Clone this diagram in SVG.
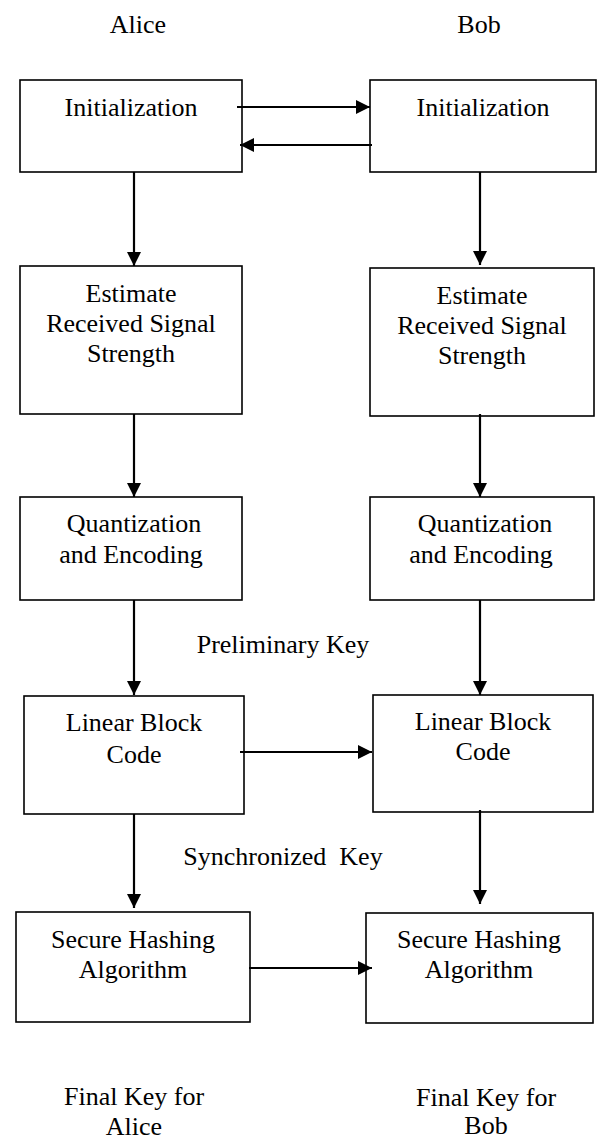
<svg xmlns="http://www.w3.org/2000/svg" width="597" height="1140" viewBox="0 0 597 1140">
<style>
.box{fill:#fff;stroke:#000;stroke-width:1.6}
.t{font-family:'Liberation Serif','Times New Roman',serif;font-size:26px;fill:#000;text-anchor:middle}
.c{fill:none;stroke:#000;stroke-width:2.2}
</style>
<defs>
<marker id="ah" markerUnits="userSpaceOnUse" markerWidth="14" markerHeight="14" refX="14" refY="7" orient="auto">
<path d="M0,0 L14,7 L0,14 Z" fill="#000"/>
</marker>
</defs>
<rect width="597" height="1140" fill="#fff"/>
<g id="labels">
<text class="t" x="138" y="33">Alice</text>
<text class="t" x="479" y="33">Bob</text>
<text class="t" x="283" y="653">Preliminary Key</text>
<text class="t" x="283" y="865" xml:space="preserve">Synchronized  Key</text>
<text class="t" x="134" y="1105">Final Key for</text>
<text class="t" x="134" y="1135">Alice</text>
<text class="t" x="486" y="1106">Final Key for</text>
<text class="t" x="486" y="1134">Bob</text>
</g>
<g id="alice-init"><rect class="box" x="20" y="80" width="222" height="92"/><text class="t" x="131" y="116">Initialization</text></g>
<g id="bob-init"><rect class="box" x="370" y="80" width="226" height="92"/><text class="t" x="483" y="116">Initialization</text></g>
<g id="alice-rss"><rect class="box" x="20" y="266" width="222" height="148"/>
<text class="t" x="131" y="302">Estimate</text><text class="t" x="131" y="332">Received Signal</text><text class="t" x="131" y="362">Strength</text></g>
<g id="bob-rss"><rect class="box" x="370" y="268" width="224" height="148"/>
<text class="t" x="482" y="304">Estimate</text><text class="t" x="482" y="334">Received Signal</text><text class="t" x="482" y="364">Strength</text></g>
<g id="alice-quant"><rect class="box" x="20" y="497" width="222" height="103"/>
<text class="t" x="134" y="532">Quantization</text><text class="t" x="131" y="563">and Encoding</text></g>
<g id="bob-quant"><rect class="box" x="370" y="497" width="224" height="103"/>
<text class="t" x="485" y="532">Quantization</text><text class="t" x="481" y="563">and Encoding</text></g>
<g id="alice-lbc"><rect class="box" x="24" y="696" width="220" height="118"/>
<text class="t" x="134" y="731">Linear Block</text><text class="t" x="134" y="763">Code</text></g>
<g id="bob-lbc"><rect class="box" x="373" y="695" width="220" height="117"/>
<text class="t" x="483" y="730">Linear Block</text><text class="t" x="483" y="760">Code</text></g>
<g id="alice-sha"><rect class="box" x="16" y="912" width="234" height="110"/>
<text class="t" x="133" y="948">Secure Hashing</text><text class="t" x="133" y="978">Algorithm</text></g>
<g id="bob-sha"><rect class="box" x="366" y="913" width="227" height="110"/>
<text class="t" x="479" y="948">Secure Hashing</text><text class="t" x="479" y="978">Algorithm</text></g>
<g id="connectors">
<line class="c" x1="237" y1="107" x2="370" y2="107" marker-end="url(#ah)"/>
<line class="c" x1="372" y1="145" x2="240" y2="145" marker-end="url(#ah)"/>
<line class="c" x1="134" y1="172" x2="134" y2="266" marker-end="url(#ah)"/>
<line class="c" x1="480" y1="172" x2="480" y2="265" marker-end="url(#ah)"/>
<line class="c" x1="134" y1="414" x2="134" y2="497" marker-end="url(#ah)"/>
<line class="c" x1="480" y1="414" x2="480" y2="497" marker-end="url(#ah)"/>
<line class="c" x1="134" y1="600" x2="134" y2="695" marker-end="url(#ah)"/>
<line class="c" x1="480" y1="600" x2="480" y2="695" marker-end="url(#ah)"/>
<line class="c" x1="240" y1="752" x2="372" y2="752" marker-end="url(#ah)"/>
<line class="c" x1="134" y1="814" x2="134" y2="908" marker-end="url(#ah)"/>
<line class="c" x1="480" y1="810" x2="480" y2="904" marker-end="url(#ah)"/>
<line class="c" x1="249" y1="968" x2="372" y2="968" marker-end="url(#ah)"/>
</g>
</svg>
